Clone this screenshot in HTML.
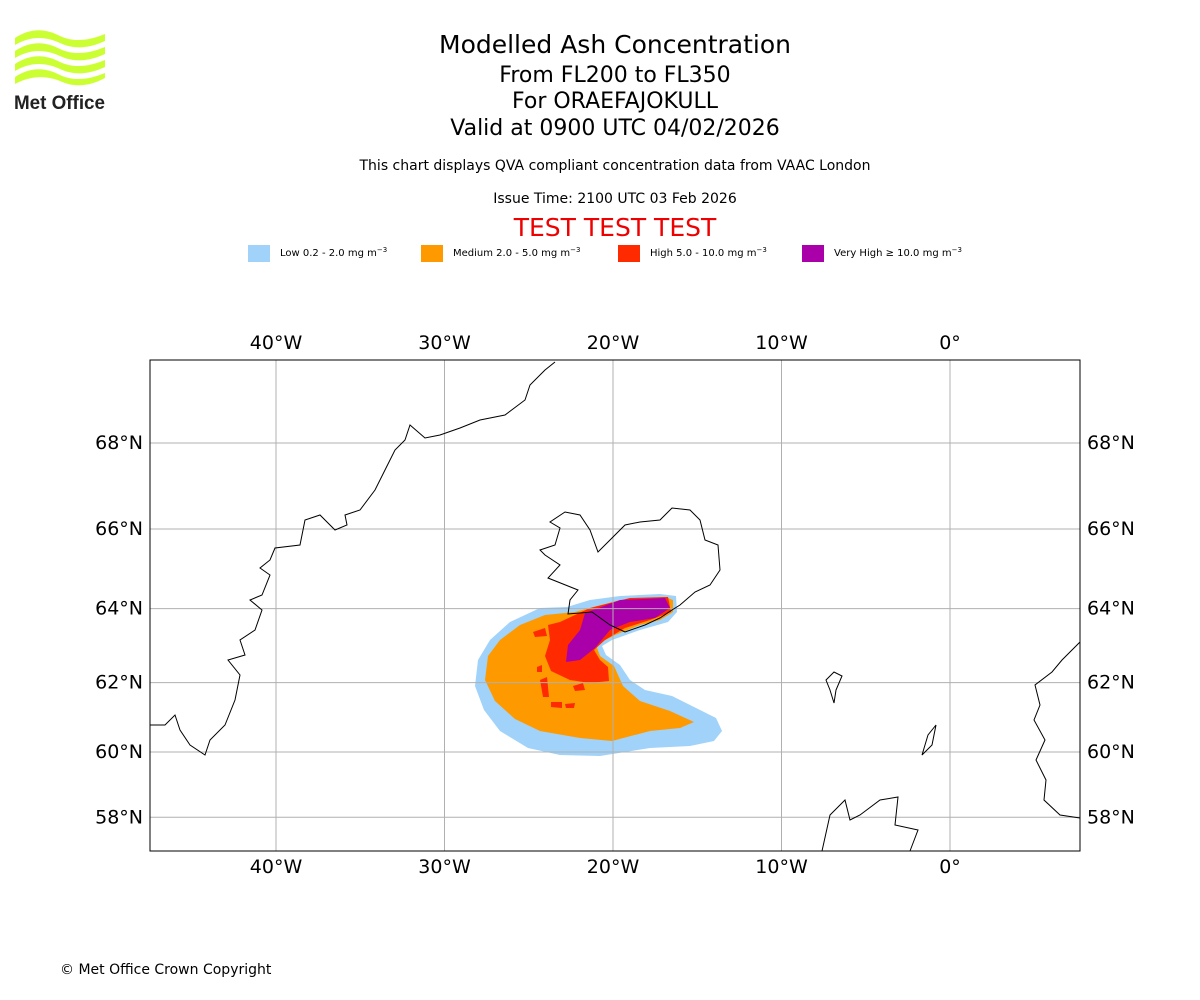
<!DOCTYPE html>
<html><head><meta charset="utf-8"><style>
body{margin:0;background:#fff;font-family:"DejaVu Sans","Liberation Sans",sans-serif}
#wrap{position:relative;width:1200px;height:1000px;overflow:hidden}
.t{position:absolute;left:0;width:1230px;text-align:center;color:#000}
</style></head><body>
<div id="wrap">
<svg style="position:absolute;left:10px;top:28px" width="100" height="85">
 <g fill="#ccff33">
  <path d="M5 10 C20 0,35 0,50 8 C65 15,80 12,95 6 L95 13 C80 20,65 22,50 15 C35 8,20 8,5 17Z"/>
  <path d="M5 23 C20 13,35 13,50 21 C65 28,80 25,95 19 L95 26 C80 33,65 35,50 28 C35 21,20 21,5 30Z"/>
  <path d="M5 36 C20 26,35 26,50 34 C65 41,80 38,95 32 L95 39 C80 46,65 48,50 41 C35 34,20 34,5 43Z"/>
  <path d="M5 49 C20 39,35 39,50 47 C65 54,80 51,95 45 L95 50 C80 58,65 60,50 53 C35 47,20 48,5 56Z"/>
 </g>
 <text x="4" y="81" font-family="Liberation Sans,sans-serif" font-weight="bold" font-size="19" textLength="91" lengthAdjust="spacingAndGlyphs" fill="#222">Met Office</text>
</svg>
<div class="t" style="top:30px;font-size:25px">Modelled Ash Concentration</div>
<div class="t" style="top:63px;font-size:22px">From FL200 to FL350</div>
<div class="t" style="top:89px;font-size:22px">For ORAEFAJOKULL</div>
<div class="t" style="top:116px;font-size:22px">Valid at 0900 UTC 04/02/2026</div>
<div class="t" style="top:158px;font-size:14px">This chart displays QVA compliant concentration data from VAAC London</div>
<div class="t" style="top:191px;font-size:14px">Issue Time: 2100 UTC 03 Feb 2026</div>
<div class="t" style="top:213px;font-size:25px;color:#e00">TEST TEST TEST</div>
<svg id="chart" width="1200" height="1000" style="position:absolute;left:0;top:0" font-family="DejaVu Sans, Liberation Sans, sans-serif"></svg>
<div style="position:absolute;left:60px;top:962px;font-size:14px">© Met Office Crown Copyright</div>
</div>
<script>
const lonTicks=[-40,-30,-20,-10,0];
const lonLabels=["40°W","30°W","20°W","10°W","0°"];
const latTicks=[68,66,64,62,60,58];
const latLabels=["68°N","66°N","64°N","62°N","60°N","58°N"];
const legendLabels=["Low 0.2 - 2.0 mg m","Medium 2.0 - 5.0 mg m","High 5.0 - 10.0 mg m","Very High \u2265 10.0 mg m"];
const legendColors=["#a0d2fa","#ff9900","#ff2a00","#aa00aa"];
const NS="http://www.w3.org/2000/svg";
const svg=document.getElementById('chart');
const X0=150,X1=1080,Y0=360,Y1=851;
function xs(lon){return 950+lon*16.85;}
function merc(lat){return Math.log(Math.tan(Math.PI/4+lat*Math.PI/360));}
function ys(lat){return 443+(merc(68)-merc(lat))*(752-443)/(merc(68)-merc(60));}
function mk(tag,at){const e=document.createElementNS(NS,tag);for(const k in at)e.setAttribute(k,at[k]);svg.appendChild(e);return e;}
legendLabels.forEach((l,i)=>{
 const xsPos=[248,421,618,802][i];
 const r=mk('rect',{x:xsPos,y:245,width:22,height:17,fill:legendColors[i]});
 
 
 const t=mk('text',{x:xsPos+32,y:256,'font-size':10});
 
 
 t.textContent=l;
 const s=document.createElementNS(NS,'tspan');s.setAttribute('dy','-4');s.setAttribute('font-size','7');s.textContent='\u22123';t.appendChild(s);
});
const plumes=[
 ["plume-low","#a0d2fa","M567 607 L590 600 620 596 660 594 676 596 677 612 668 622 640 630 612 640 602 646 606 655 620 665 630 680 645 690 672 696 700 710 716 718 722 731 714 741 690 746 650 748 600 756 560 755 528 748 500 731 484 710 475 686 478 660 490 640 510 622 540 608Z"],
 ["plume-medium","#ff9900","M575 612 L620 600 665 597 673 600 673 612 660 620 640 625 615 635 596 645 600 656 614 666 623 686 640 701 670 711 694 722 680 728 650 731 612 741 580 738 540 731 515 719 495 701 485 680 488 656 500 640 520 625 545 615Z"],
 ["plume-high","#ff2a00","M560 622 L590 608 630 598 668 597 671 612 650 620 625 628 605 640 594 650 600 660 608 667 609 681 590 683 570 680 551 671 545 656 550 640 548 625Z M533 632 L545 628 547 636 535 637Z M540 680 L547 677 549 697 543 697Z M551 702 L562 702 562 708 551 707Z M565 704 L575 703 574 708 566 708Z M573 686 L583 683 585 690 575 691Z M537 667 L542 665 542 672 537 672Z"],
 ["plume-very-high","#aa00aa","M585 613 L620 600 665 598 670 608 655 618 630 622 610 630 595 648 580 660 566 662 568 645 580 630Z"]
];
plumes.forEach(p=>{const e=mk('path',{d:p[2],fill:p[1]});});
lonTicks.forEach((v,i)=>{
 const x=xs(v);
 const g=mk('line',{x1:x,x2:x,y1:Y0,y2:Y1,stroke:'#b0b0b0','stroke-width':1});
 
 [[Y0-11],[Y1+22]].forEach(yy=>{const t=mk('text',{x:x,y:yy[0],'font-size':19,'text-anchor':'middle'});
 t.textContent=lonLabels[i];});
});
latTicks.forEach((v,i)=>{
 const y=ys(v);
 const g=mk('line',{x1:X0,x2:X1,y1:y,y2:y,stroke:'#b0b0b0','stroke-width':1});
 
 const a=mk('text',{x:X0-7,y:y+6,'font-size':19,'text-anchor':'end'});
 a.textContent=latLabels[i];
 const b=mk('text',{x:X1+7,y:y+6,'font-size':19});
 b.textContent=latLabels[i];
});
const coasts=[
 ["greenland-coast","M555 362 L545 370 530 385 525 400 505 415 480 420 460 428 440 435 425 438 410 425 405 440 395 450 385 470 375 490 360 510 345 515 347 525 335 530 320 515 305 520 300 545 275 548 270 560 260 568 270 575 262 595 250 600 262 610 255 630 240 640 245 655 228 660 240 675 235 700 225 725 210 740 205 755 190 745 180 730 175 715 165 725 150 725"],
 ["iceland-coast","M540 550 L555 545 560 528 550 522 565 512 580 515 590 530 598 552 610 540 625 525 640 522 660 520 672 508 690 510 700 520 705 540 718 545 720 570 710 585 695 592 680 605 672 610 660 618 645 625 625 632 610 625 592 612 568 614 570 600 578 590 548 578 560 565 545 555Z"],
 ["scotland-coast","M822 851 L830 815 845 800 850 820 860 815 880 800 898 797 895 825 918 830 910 851"],
 ["faroe-coast","M826 680 L834 672 842 676 836 690 834 703 830 690Z"],
 ["shetland-coast","M922 755 L928 735 936 725 932 745Z"],
 ["norway-coast","M1080 642 L1062 660 1052 672 1035 685 1040 705 1034 720 1045 740 1036 760 1046 780 1044 800 1060 815 1080 818"]
];
coasts.forEach(c=>{const e=mk('path',{d:c[1],fill:'none',stroke:'#000','stroke-width':1});});
const fr=mk('rect',{x:X0,y:Y0,width:X1-X0,height:Y1-Y0,fill:'none',stroke:'#000','stroke-width':1});

</script>
</body></html>
